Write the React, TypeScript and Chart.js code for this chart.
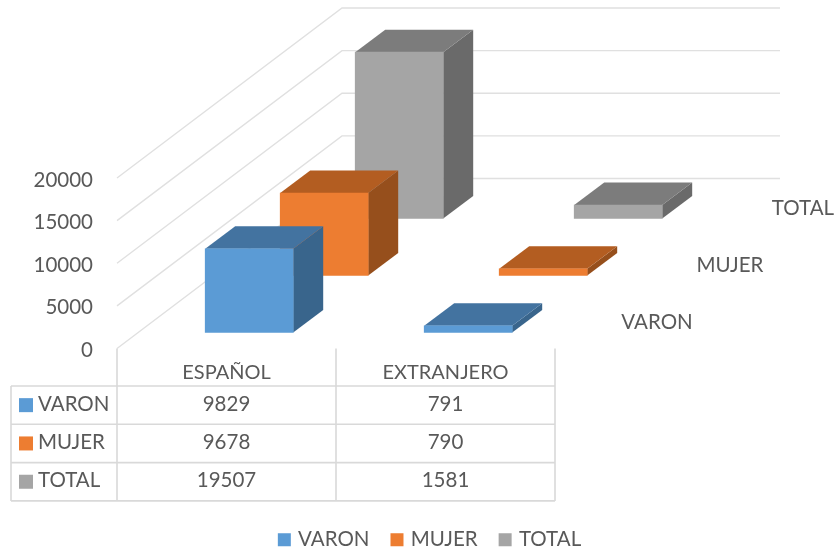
import React, { useEffect, useRef } from "react";
import { Chart, registerables } from "chart.js";

Chart.register(...registerables);

const categories = ["ESPAÑOL", "EXTRANJERO"];
const seriesNames = ["VARON", "MUJER", "TOTAL"];
const varon = [9829, 791];
const mujer = [9678, 790];
const total = [19507, 1581];
const seriesValues = [varon, mujer, total];
const yTicks = [0, 5000, 10000, 15000, 20000];

const frontColors = ["#5B9BD5", "#ED7D31", "#A5A5A5"];
const topColors = ["#4373A0", "#B35D21", "#7C7C7C"];
const sideColors = ["#39658C", "#964F1C", "#6A6A6A"];

const FONT = "Lato";
const FONT_SIZE = 20.5;
const TEXT = "#595959";
const GRID = "#E0E0E0";
const TABLE = "#D9D9D9";

// one-bar offset in the oblique projection
const DEPTH_DX = 30;
const DEPTH_DY = -22.5;
// first slot start and per-slot step on the floor
const SLOT_X0 = 22.7;
const SLOT_Y0 = -16;
const SLOT_DX = 75;
const SLOT_DY = -57;
const WALL_DX = 225;
const WALL_DY = -170;

const depthPlugin = {
  id: "depth3d",
  afterLayout(chart: any) {
    if (chart.legend) chart.legend.top += 6;
  },
  afterDatasetsUpdate(chart: any) {
    chart.data.datasets.forEach((_: any, i: number) => {
      const meta = chart.getDatasetMeta(i);
      const dx = SLOT_X0 + SLOT_DX * i;
      const dy = SLOT_Y0 + SLOT_DY * i;
      meta.data.forEach((el: any) => {
        el.x += dx;
        el.y += dy;
        el.base += dy;
      });
    });
  },
  beforeDatasetsDraw(chart: any) {
    const { ctx, scales, chartArea } = chart;
    const y = scales.y;
    ctx.save();
    ctx.strokeStyle = GRID;
    ctx.lineWidth = 1.4;
    yTicks.forEach((v) => {
      const py = y.getPixelForValue(v);
      ctx.beginPath();
      ctx.moveTo(chartArea.left, py);
      ctx.lineTo(chartArea.left + WALL_DX, py + WALL_DY);
      ctx.lineTo(chartArea.right + WALL_DX, py + WALL_DY);
      ctx.stroke();
    });
    ctx.restore();
  },
  beforeDatasetDraw(chart: any, args: any) {
    const { ctx } = chart;
    const i = args.index;
    const meta = chart.getDatasetMeta(i);
    ctx.save();
    meta.data.forEach((el: any) => {
      const half = el.width / 2;
      const l = el.x - half;
      const r = el.x + half;
      const t = el.y;
      const b = el.base;
      ctx.fillStyle = sideColors[i];
      ctx.beginPath();
      ctx.moveTo(r, t);
      ctx.lineTo(r + DEPTH_DX, t + DEPTH_DY);
      ctx.lineTo(r + DEPTH_DX, b + DEPTH_DY);
      ctx.lineTo(r, b);
      ctx.closePath();
      ctx.fill();
      ctx.fillStyle = topColors[i];
      ctx.beginPath();
      ctx.moveTo(l, t);
      ctx.lineTo(l + DEPTH_DX, t + DEPTH_DY);
      ctx.lineTo(r + DEPTH_DX, t + DEPTH_DY);
      ctx.lineTo(r, t);
      ctx.closePath();
      ctx.fill();
    });
    ctx.restore();
  },
  afterDraw(chart: any) {
    const { ctx, scales, chartArea } = chart;
    const x = scales.x;
    const tableLeft = 11;
    const rowTop = 386;
    const rowH = 38.3;
    const left = chartArea.left;
    const mid = (x.getPixelForTick(0) + x.getPixelForTick(1)) / 2;
    const right = chartArea.right;
    const bottom = chartArea.bottom;
    ctx.save();
    ctx.strokeStyle = TABLE;
    ctx.lineWidth = 1.6;
    [left, mid, right].forEach((px) => {
      ctx.beginPath();
      ctx.moveTo(px, bottom);
      ctx.lineTo(px, rowTop + rowH * 3);
      ctx.stroke();
    });
    ctx.beginPath();
    ctx.moveTo(tableLeft, rowTop);
    ctx.lineTo(tableLeft, rowTop + rowH * 3);
    ctx.stroke();
    for (let r = 0; r <= 3; r++) {
      ctx.beginPath();
      ctx.moveTo(tableLeft, rowTop + rowH * r);
      ctx.lineTo(right, rowTop + rowH * r);
      ctx.stroke();
    }
    ctx.font = `${FONT_SIZE}px ${FONT}`;
    ctx.textBaseline = "middle";
    seriesNames.forEach((name, r) => {
      const cy = rowTop + rowH * r + rowH / 2;
      ctx.fillStyle = frontColors[r];
      ctx.fillRect(19, cy - 7, 14, 14);
      ctx.fillStyle = TEXT;
      ctx.textAlign = "left";
      ctx.fillText(name, 38, cy - 1);
      ctx.textAlign = "center";
      seriesValues[r].forEach((v, c) => {
        ctx.fillText(String(v), x.getPixelForTick(c), cy - 1);
      });
    });
    // depth-axis labels
    ctx.textAlign = "center";
    seriesNames.forEach((name, i) => {
      ctx.fillText(name, 657 + (SLOT_DX - 2) * i, 322 + SLOT_DY * i);
    });
    ctx.restore();
  },
};

export default function App() {
  const ref = useRef<HTMLCanvasElement>(null);
  useEffect(() => {
    const chart = new Chart(ref.current as HTMLCanvasElement, {
      type: "bar",
      data: {
        labels: categories,
        datasets: seriesNames.map((name, i) => ({
          label: name,
          data: seriesValues[i],
          backgroundColor: frontColors[i],
          borderWidth: 0,
          clip: false,
          barThickness: 88,
        })),
      },
      options: {
        responsive: false,
        animation: false,
        events: [],
        layout: { padding: { left: 24, right: 0, top: 178, bottom: 0 } },
        datasets: { bar: { grouped: false } },
        scales: {
          x: {
            grid: { display: false },
            border: { display: false },
            ticks: {
              color: TEXT,
              font: { family: FONT, size: 20 },
              padding: 4,
              maxRotation: 0,
            },
            afterFit(s: any) {
              s.height = 151;
            },
          },
          y: {
            min: 0,
            max: 20000,
            grid: { display: false },
            border: { display: false },
            afterBuildTicks(s: any) {
              s.ticks = yTicks.map((value) => ({ value }));
            },
            ticks: {
              color: TEXT,
              font: { family: FONT, size: FONT_SIZE },
              padding: 16,
              labelOffset: 2,
              callback: (v: any) => String(v),
            },
            afterFit(s: any) {
              s.width = 93;
            },
          },
          rightGutter: {
            position: "right",
            display: true,
            grid: { display: false },
            border: { display: false },
            ticks: { display: false },
            afterFit(s: any) {
              s.width = 283;
            },
          },
        },
        plugins: {
          tooltip: { enabled: false },
          legend: {
            position: "bottom",
            labels: {
              color: TEXT,
              font: { family: FONT, size: FONT_SIZE },
              boxWidth: 7,
              boxHeight: 7,
              padding: 24,
              generateLabels(c: any) {
                return Chart.defaults.plugins.legend.labels
                  .generateLabels(c)
                  .map((l: any) => ({ ...l, lineWidth: 6, strokeStyle: l.fillStyle }));
              },
            },
          },
        },
      } as any,
      plugins: [depthPlugin],
    });
    return () => chart.destroy();
  }, []);
  return (
    <div style={{ position: "absolute", left: 0, top: 0, width: 838, height: 554, background: "#fff" }}>
      <canvas ref={ref} width={838} height={554} style={{ display: "block" }} />
    </div>
  );
}
